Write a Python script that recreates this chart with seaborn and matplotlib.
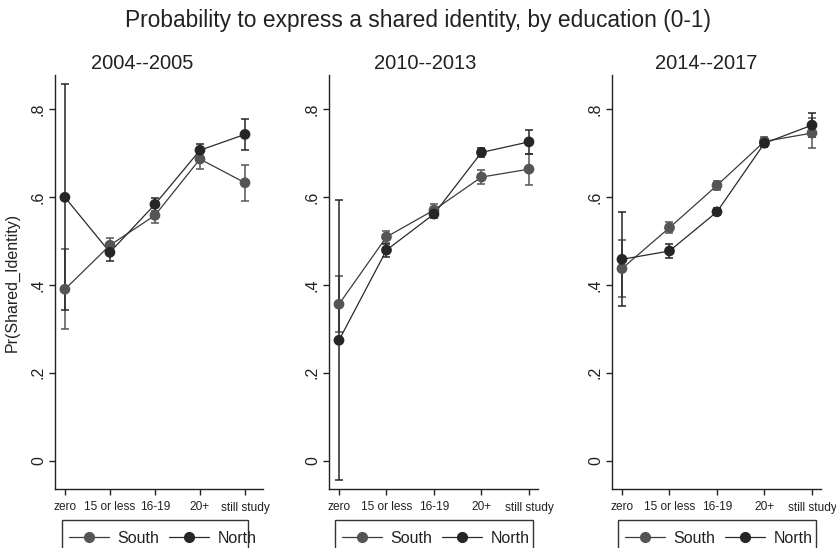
import matplotlib
matplotlib.use("Agg")
import matplotlib.pyplot as plt
from matplotlib.lines import Line2D
from matplotlib.patches import Rectangle
import seaborn as sns
import pandas as pd

# ---------------- data ----------------
education = ["zero", "15 or less", "16-19", "20+", "still study"]
periods = ["2004--2005", "2010--2013", "2014--2017"]
regions = ["South", "North"]

south_0405 = [0.390, 0.490, 0.558, 0.686, 0.632]
south_0405_ci = [0.091, 0.017, 0.018, 0.022, 0.041]
north_0405 = [0.599, 0.474, 0.583, 0.706, 0.742]
north_0405_ci = [0.257, 0.020, 0.015, 0.015, 0.035]

south_1013 = [0.356, 0.509, 0.570, 0.645, 0.663]
south_1013_ci = [0.064, 0.013, 0.013, 0.015, 0.035]
north_1013 = [0.274, 0.479, 0.561, 0.701, 0.725]
north_1013_ci = [0.318, 0.015, 0.008, 0.010, 0.027]

south_1417 = [0.437, 0.530, 0.626, 0.726, 0.745]
south_1417_ci = [0.065, 0.013, 0.010, 0.010, 0.034]
north_1417 = [0.458, 0.477, 0.566, 0.722, 0.763]
north_1417_ci = [0.107, 0.017, 0.008, 0.008, 0.028]

yticks = [0, 0.2, 0.4, 0.6, 0.8]
title = "Probability to express a shared identity, by education (0-1)"
ylabel = "Pr(Shared_Identity)"

series = {
    ("2004--2005", "South"): (south_0405, south_0405_ci),
    ("2004--2005", "North"): (north_0405, north_0405_ci),
    ("2010--2013", "South"): (south_1013, south_1013_ci),
    ("2010--2013", "North"): (north_1013, north_1013_ci),
    ("2014--2017", "South"): (south_1417, south_1417_ci),
    ("2014--2017", "North"): (north_1417, north_1417_ci),
}
rows = []
for (per, reg), (vals, cis) in series.items():
    for i, (e, v, c) in enumerate(zip(education, vals, cis)):
        rows.append(dict(period=per, region=reg, edu=e, x=i, value=v,
                         lo=v - c, hi=v + c))
df = pd.DataFrame(rows)

# ---------------- style ----------------
sns.set_theme(style="ticks")
plt.rcParams["font.family"] = ["Liberation Sans", "DejaVu Sans"]

marker_col = {"South": "#555555", "North": "#262626"}
line_col = {"South": "#3c3c3c", "North": "#2a2a2a"}

W, H = 836, 548
fig = plt.figure(figsize=(W / 100, H / 100), dpi=100)
fig.patch.set_facecolor("white")

axpix = [(55, 263), (329, 538), (612, 821)]
xlims = [(-0.22, 4.40), (-0.21, 4.19), (-0.21, 4.19)]
title_x = [0.42, 0.46, 0.45]
legend_box = [(62, 248), (335, 533), (618, 816)]
top_px, bot_px = 75, 489

for k, per in enumerate(periods):
    l, r = axpix[k]
    ax = fig.add_axes([l / W, 1 - bot_px / H, (r - l) / W, (bot_px - top_px) / H])
    sub = df[df.period == per]
    for reg in regions:
        d = sub[sub.region == reg]
        ax.errorbar(d["x"], d["value"],
                    yerr=[d["value"] - d["lo"], d["hi"] - d["value"]],
                    fmt="none", ecolor=marker_col[reg], elinewidth=1.1,
                    capsize=2.8, capthick=1.1, zorder=2)
    sns.lineplot(data=sub, x="x", y="value", hue="region", hue_order=regions,
                 palette=line_col, linewidth=0.9, legend=False, ax=ax,
                 zorder=3, estimator=None, sort=True)
    sns.scatterplot(data=sub, x="x", y="value", hue="region", hue_order=regions,
                    palette=marker_col, s=60, edgecolor=None, linewidth=0,
                    legend=False, ax=ax, zorder=4)
    ax.set_xlim(*xlims[k])
    ax.set_ylim(-0.064, 0.877)
    ax.set_xticks(range(len(education)))
    ax.set_xticklabels(education, fontsize=8.6, color="#222222")
    ax.set_yticks(yticks)
    ax.set_yticklabels(["0" if t == 0 else ("%.1f" % t).lstrip("0") for t in yticks],
                       fontsize=11.5, rotation=90, va="center", color="#222222")
    ax.tick_params(axis="both", direction="out", length=4, width=1.0,
                   color="#222222")
    ax.tick_params(axis="x", pad=5)
    ax.tick_params(axis="y", pad=2.5)
    for s in ["top", "right"]:
        ax.spines[s].set_visible(False)
    for s in ["left", "bottom"]:
        ax.spines[s].set_color("#222222")
        ax.spines[s].set_linewidth(1.0)
    ax.set_xlabel("")
    ax.set_ylabel(ylabel if k == 0 else "", fontsize=11.5, labelpad=8,
                  color="#222222")
    ax.set_facecolor("white")
    ax.set_title(per, fontsize=14.5, x=title_x[k], pad=4, color="#222222")

    bl, br = legend_box[k]
    rect = Rectangle((bl / W, 1 - 562 / H), (br - bl) / W, (562 - 520) / H,
                     transform=fig.transFigure, fill=False,
                     edgecolor="#333333", linewidth=1.0)
    fig.patches.append(rect)
    handles = [Line2D([], [], color=line_col[r], linewidth=0.9, marker="o",
                      markersize=7, markerfacecolor=marker_col[r],
                      markeredgecolor=marker_col[r]) for r in regions]
    fig.legend(handles, regions, loc="upper left",
               bbox_to_anchor=((bl + 3) / W, 1 - 527 / H),
               ncol=2, frameon=False, fontsize=11.5, handlelength=2.5,
               handletextpad=0.55, columnspacing=0.6, borderaxespad=0,
               borderpad=0.25, labelcolor="#222222")

fig.suptitle(title, fontsize=16.4, y=1 - 20 / H, va="center", color="#222222")
fig.savefig("out.png", dpi=100, facecolor="white")
